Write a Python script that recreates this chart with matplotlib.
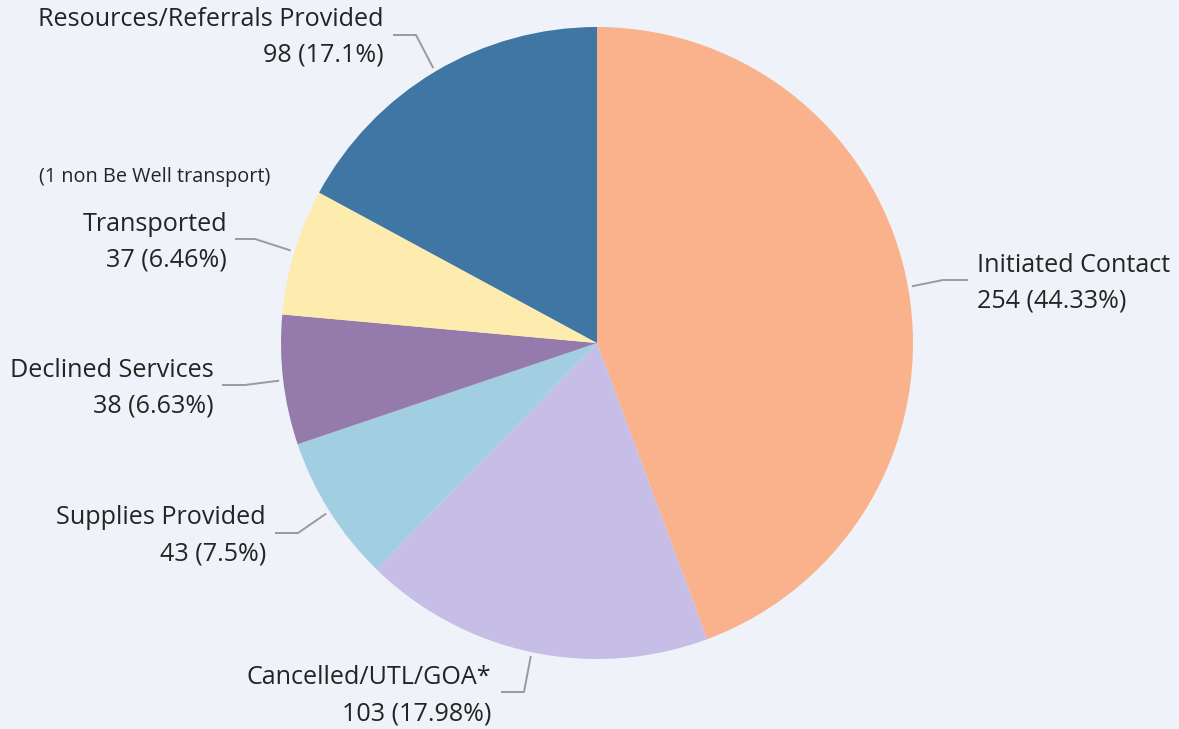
import matplotlib
matplotlib.use("Agg")
import matplotlib.pyplot as plt
import numpy as np

categories = ["Initiated Contact", "Cancelled/UTL/GOA*", "Supplies Provided",
              "Declined Services", "Transported", "Resources/Referrals Provided"]
values = [254, 103, 43, 38, 37, 98]
pct_labels = ["44.33%", "17.98%", "7.5%", "6.63%", "6.46%", "17.1%"]
colors = ["#F9B28C", "#C6BEE6", "#A1CEE0", "#957BAC", "#FDECAE", "#3F76A4"]
note = "(1 non Be Well transport)"

W, H = 1179, 729
bg = "#EFF3F9"
txt = "#252423"
plt.rcParams['font.family'] = ['Open Sans', 'DejaVu Sans']

fig = plt.figure(figsize=(W / 100, H / 100), dpi=100, facecolor=bg)
ax = fig.add_axes([0, 0, 1, 1])
ax.set_facecolor(bg)

cx, cy, R = 597, H - 343, 316
wedges, _ = ax.pie(values, colors=colors, startangle=90, counterclock=False,
                   center=(cx, cy), radius=R, frame=True,
                   wedgeprops=dict(linewidth=0))
ax.set_xlim(0, W)
ax.set_ylim(0, H)
ax.set_aspect('equal')
ax.axis('off')

layout = {
    0: dict(elbow=(943, 280), end=(968, 280), tx=977, side='left'),
    1: dict(elbow=(524, 692), end=(501, 692), tx=491, side='right'),
    2: dict(elbow=(298, 533), end=(275, 533), tx=266, side='right'),
    3: dict(elbow=(245, 385), end=(222, 385), tx=214, side='right'),
    4: dict(elbow=(255, 239), end=(235, 239), tx=227, side='right'),
    5: dict(elbow=(416, 35), end=(393, 35), tx=384, side='right'),
}
name_y = {0: 265, 1: 678, 2: 518, 3: 370, 4: 224, 5: 19}
fs = 18.1

for i, w in enumerate(wedges):
    mid = np.deg2rad((w.theta1 + w.theta2) / 2)
    sx = cx + (R + 4) * np.cos(mid)
    sy = cy + (R + 4) * np.sin(mid)
    L = layout[i]
    ex, ey = L['elbow']
    hx, hy = L['end']
    ax.plot([sx, ex, hx], [sy, H - ey, H - hy], color="#9A9A9A", lw=1.4,
            solid_capstyle='butt', zorder=3)
    ha = 'left' if L['side'] == 'left' else 'right'
    ny = name_y[i]
    ax.text(L['tx'], H - ny, categories[i], ha=ha, va='center', fontsize=fs, color=txt)
    ax.text(L['tx'], H - ny - 36, f"{values[i]} ({pct_labels[i]})", ha=ha, va='center',
            fontsize=fs, color=txt)

ax.text(270, H - 177, note, ha='right', va='center', fontsize=14.3, color=txt)

fig.savefig("out.png", dpi=100, facecolor=bg)
